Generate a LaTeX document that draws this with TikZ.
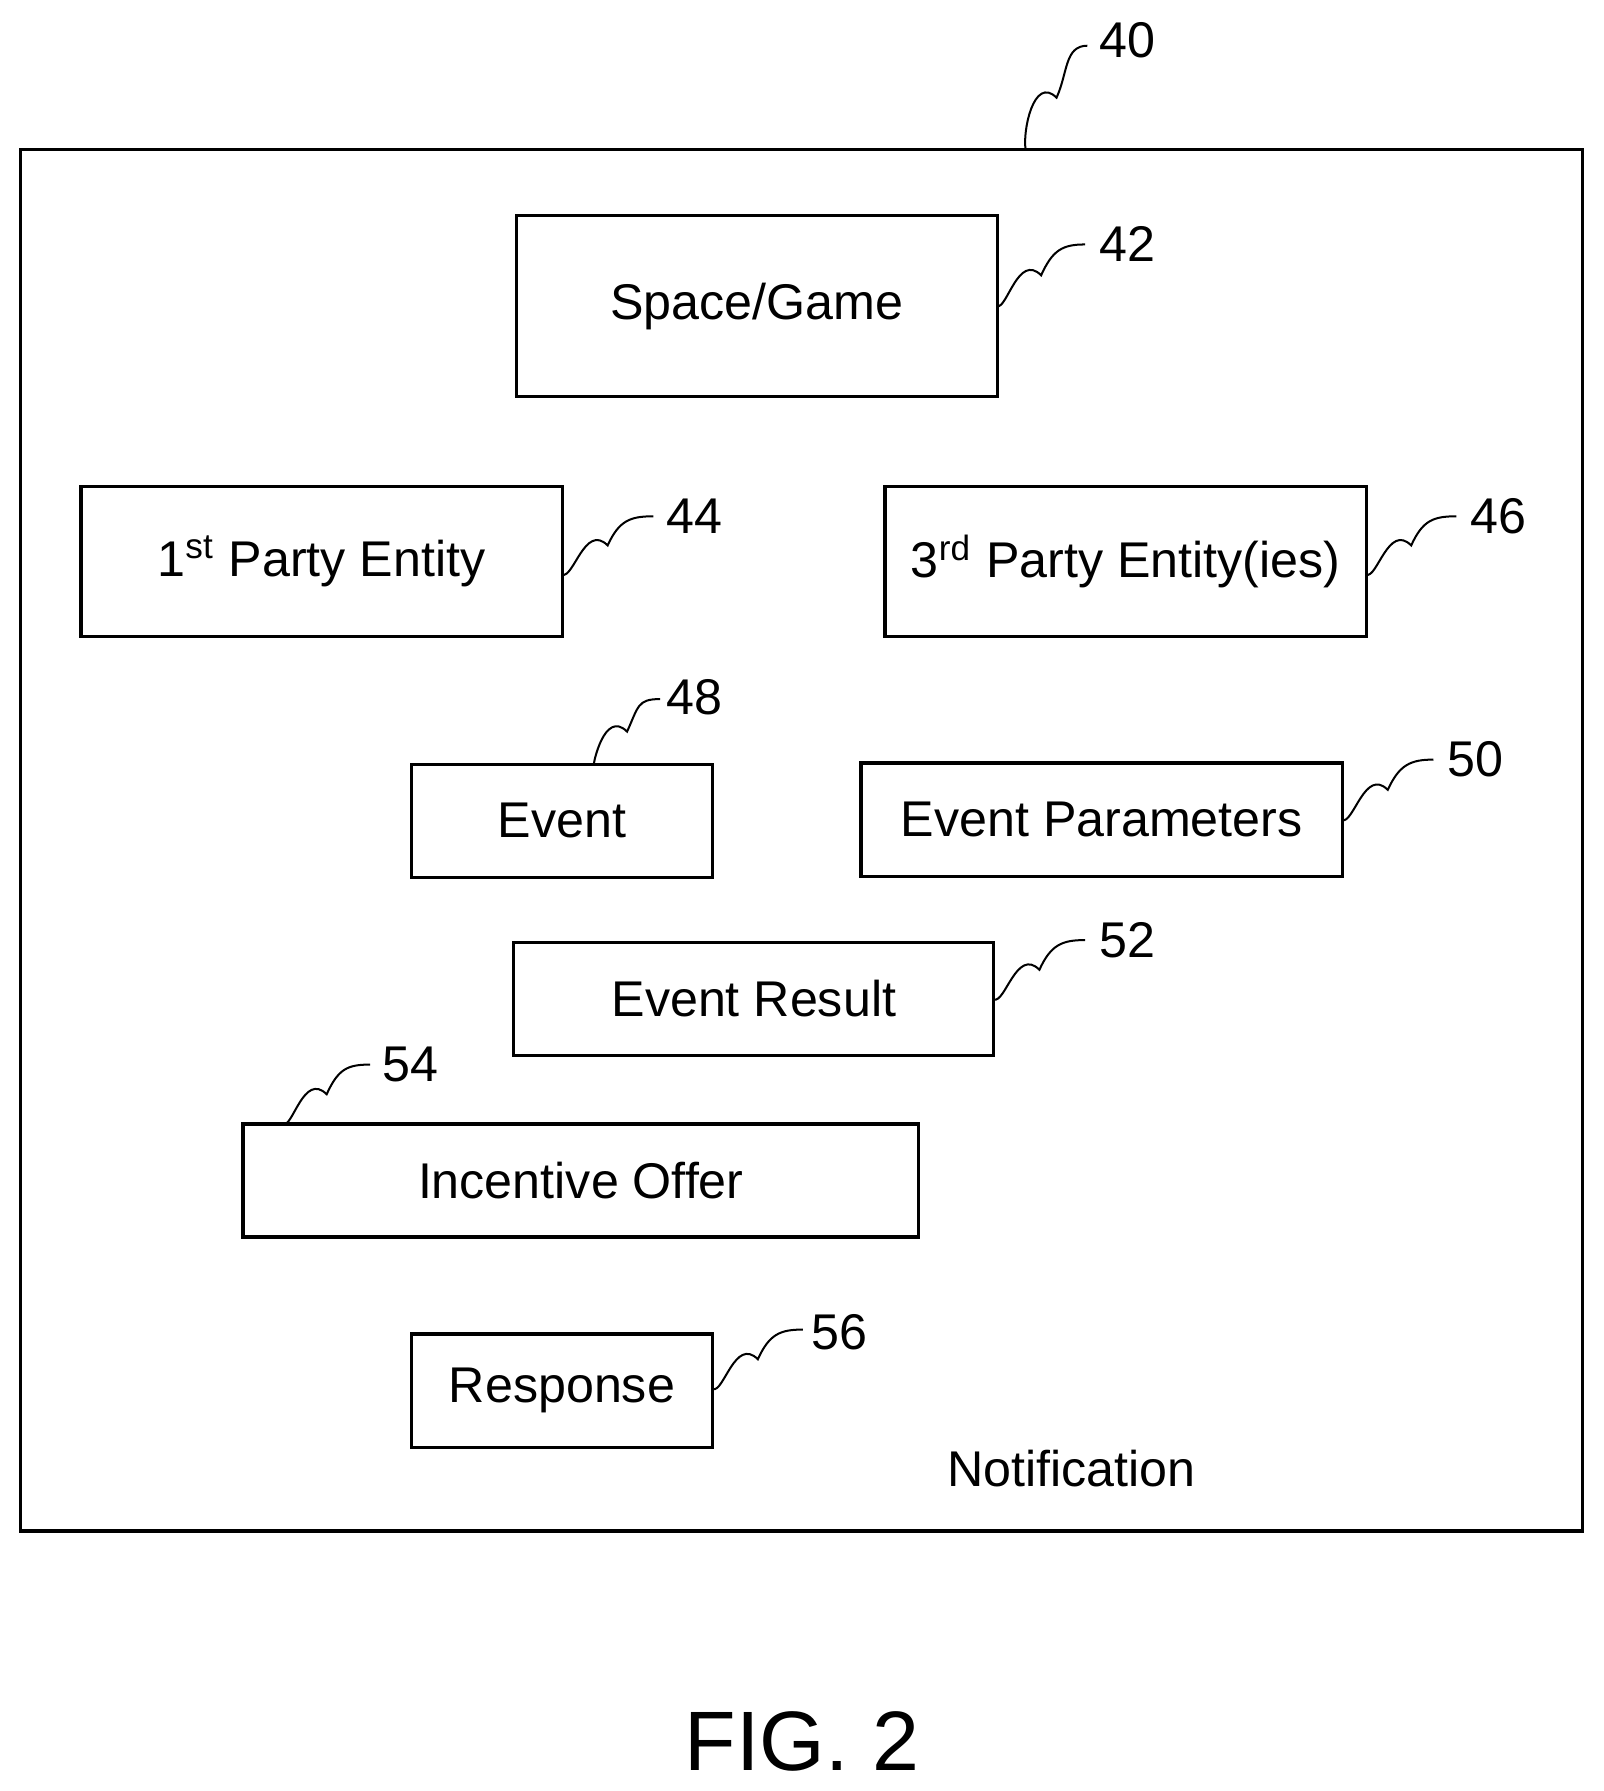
\documentclass[tikz,border=0pt]{standalone}
\usepackage{fontspec}
\setmainfont{Liberation Sans}
\usetikzlibrary{calc}
\begin{document}
\begin{tikzpicture}[x=0.01cm,y=-0.01cm,line width=0.8pt,
 box/.style={draw,inner sep=0pt,font=\fontsize{12.5}{15}\selectfont},
 lbl/.style={font=\fontsize{12.5}{15}\selectfont},
 lead/.style={line width=0.5pt}]
\useasboundingbox (0,0) rectangle (1404,1568);
\node[draw,minimum width=13.67cm,minimum height=12.09cm,inner sep=0pt] (outer) at (701.5,735.5) {};
\node[box,minimum width=4.21cm,minimum height=1.58cm] (sg) at (662.5,268) {Space/Game};
\node[box,minimum width=4.21cm,minimum height=1.31cm] (fp) at (281.5,491.5) {1\textsuperscript{st} Party Entity};
\node[box,minimum width=4.21cm,minimum height=1.31cm] (tp) at (985.5,491.5) {3\textsuperscript{rd} Party Entity(ies)};
\node[box,minimum width=2.64cm,minimum height=0.99cm] (ev) at (492,718.5) {Event};
\node[box,minimum width=4.21cm,minimum height=0.99cm] (ep) at (964.5,717.5) {Event Parameters};
\node[box,minimum width=4.20cm,minimum height=0.99cm] (er) at (660,874.5) {Event Result};
\node[box,minimum width=5.91cm,minimum height=0.99cm] (io) at (508.5,1033.5) {Incentive Offer};
\node[box,minimum width=2.64cm,minimum height=0.99cm] (rs) at (492,1217.5) {Response};
\node[lbl] (nt) at (938,1286) {Notification};
\node[font=\fontsize{21}{25}\selectfont] (fig) at (702,1525) {FIG. 2};
\node[lbl] (l40) at (987,35) {40};
\node[lbl] (l42) at (987,214) {42};
\node[lbl] (l44) at (608,452) {44};
\node[lbl] (l46) at (1312,452) {46};
\node[lbl] (l48) at (608,610) {48};
\node[lbl] (l50) at (1292,665) {50};
\node[lbl] (l52) at (987,823) {52};
\node[lbl] (l54) at (359,932) {54};
\node[lbl] (l56) at (735,1166) {56};
\coordinate (a40) at (898,131); \coordinate (b40) at (952,40);
\coordinate (a42) at (873,268); \coordinate (b42) at (950,214);
\coordinate (a44) at (492,503); \coordinate (b44) at (572,452);
\coordinate (a46) at (1196,503); \coordinate (b46) at (1275,452);
\coordinate (a48) at (520,669); \coordinate (b48) at (578,612);
\coordinate (a50) at (1175,718); \coordinate (b50) at (1255,665);
\coordinate (a52) at (870,875); \coordinate (b52) at (950,823);
\coordinate (a54) at (248,984); \coordinate (b54) at (324,932);
\coordinate (a56) at (624,1216); \coordinate (b56) at (703,1164);
\foreach \n in {40,42,44,46,48,50,52,54,56}
 \draw[lead] (a\n) .. controls ($(a\n)!0.5!(b\n)+(-30,30)$) and ($(a\n)!0.5!(b\n)+(-20,-20)$) .. ($(a\n)!0.5!(b\n)$) .. controls ($(a\n)!0.5!(b\n)+(10,-22)$) and ($(b\n)+(-20,0)$) .. (b\n);
\end{tikzpicture}
\end{document}
